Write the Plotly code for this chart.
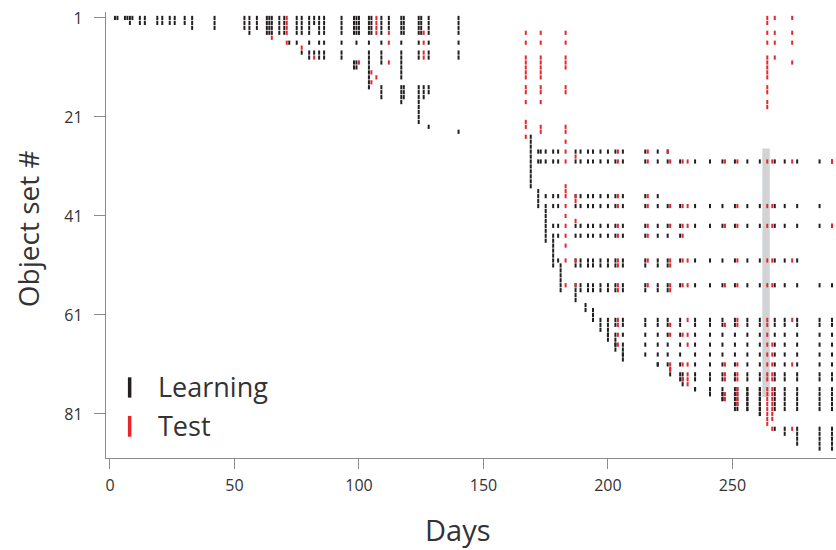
import plotly.graph_objects as go

# ---------------- data ----------------
# events: (day, first object set, last object set)
early_learn = [(2,1,1),(3,1,1),(6,1,1),(7,1,1),(8,1,2),(9,1,1),(12,1,2),(14,1,2),(19,1,2),(21,1,2),
               (24,1,2),(26,1,2),(30,1,2),(33,1,3),(42,1,3),(54,1,3),(56,1,4),(59,1,3),(63,1,4),(64,1,4),
               (65,1,4),(68,1,4),(70,1,4),(72,6,6),(75,1,4),(75,6,6),(77,1,4),(77,8,8),(80,1,4),(80,6,6),
               (80,8,9),(82,1,2),(82,8,8),(84,1,4),(84,6,6),(84,8,9),(86,1,4),(86,6,6),(86,8,9),(93,1,4),
               (93,6,6),(93,8,9),(98,1,4),(99,1,4),(100,1,4),(99,6,6),(98,10,11),(99,10,11),(104,1,4),
               (105,1,4),(104,6,6),(104,8,9),(104,10,15),(109,1,4),(109,6,6),(109,8,10),(109,15,17),
               (112,1,3),(117,1,4),(118,1,4),(117,6,6),(117,8,9),(117,10,13),(117,15,18),(118,15,17),
               (124,1,4),(125,1,4),(124,6,6),(124,8,9),(124,15,22),(126,15,17),(128,1,4),(128,6,6),
               (128,8,9),(128,15,16),(128,23,23),(140,1,4),(140,6,6),(140,8,9),(140,24,24)]
early_test = [(65,5,5),(71,1,4),(71,6,6),(77,7,7),(82,9,9),(100,10,10),(105,12,12),(105,14,14),
              (107,1,4),(107,13,13),(112,4,4),(112,6,6),(112,10,10),(126,4,4),(126,6,6),(126,8,9)]
test_a = [(167,4,4),(167,6,6),(167,9,13),(167,15,16),(167,18,18),(167,22,23),(167,25,25),
          (173,4,4),(173,6,6),(173,9,13),(173,15,16),(173,18,18),(173,23,24),
          (183,4,4),(183,6,6),(183,9,11),(183,15,16),(183,23,24),(183,26,26),(183,35,36),
          (183,41,41),(183,47,47),(187,29,29),(187,38,38),(187,42,42),(225,72,72),(232,75,75)]
test_b = [(264,1,2),(264,4,4),(264,6,6),(264,9,13),(264,15,16),(264,18,19),(267,1,1),(267,4,4),
          (267,6,6),(267,9,9),(274,1,1),(274,4,4),(274,6,6),(274,10,10)]
late_intro = [(169,25,35),(172,36,39),(175,40,46),(178,46,51),(181,51,56),(187,57,58),(191,59,60),
              (194,60,62),(197,62,64),(200,64,66),(203,66,68),(206,68,70),(220,71,71),(225,72,73),
              (230,73,75),(235,76,76),(241,76,77),(246,77,78),(252,76,80),(256,76,80),(261,76,81)]
# review schedule of the later object sets
review_days = [172,173,175,178,180,187,189,192,194,197,200,203,206,215,220,224,229,235,241,246,
               251,256,261,267,271,276,285,290]
# (object set, first day, last day, test days)
review_rows = [
    (28,172,224,[183,204,216,224]),
    (30,172,290,[183,204,216,225,230,232,247,252,264,266,274,290]),
    (37,175,220,[183,187,204,216]),
    (39,175,285,[183,204,216,225,230,232,252,264,266]),
    (43,178,290,[183,204,216,225,230,232,247,252,264,266,290]),
    (45,178,230,[183,204,216,230]),
    (50,180,276,[183,187,204,216,225,230,232,252,264,266,274]),
    (51,187,224,[204,225]),
    (55,183,290,[183,187,204,216,225,230,232,247,252,264,266]),
    (56,187,224,[204,225]),
    (62,200,290,[204,232,252,264,274]),
    (63,200,290,[204,225,247,252,264]),
    (65,200,290,[204,225,230,232,264]),
    (67,203,290,[204,232,264,266]),
    (69,206,290,[264,266]),
    (71,220,290,[225,230,232,247,252,264,266,274]),
    (73,225,290,[232,247,252,264,266]),
    (74,229,290,[230,232,247,252,264,266]),
    (76,235,290,[252,264,266]),
    (77,241,290,[247,252,264,266]),
    (78,246,290,[247,252,264,266]),
    (79,251,290,[252,264,266]),
    (80,251,290,[264,266]),
    (81,261,261,[264,266]),
    (82,264,264,[264,266]),
    (83,264,264,[264]),
    (84,266,290,[266,274]),
    (85,271,290,[]),
    (86,276,290,[]),
    (87,276,290,[]),
    (88,285,290,[]),
]
highlight_days = [262, 265]
highlight_sets = [27.4, 77.6]
x_ticks = [0, 50, 100, 150, 200, 250]
y_ticks = [1, 21, 41, 61, 81]

BLACK = "#231F20"
RED = "#E8262C"
FONT = "Open Sans"


def expand(events):
    xs, ys = [], []
    for d, s0, s1 in events:
        for s in range(s0, s1 + 1):
            xs.append(d)
            ys.append(s)
    return xs, ys


lx, ly = expand(early_learn + late_intro)
tx, ty = expand(early_test + test_a + test_b)
for s, d0, d1, tests in review_rows:
    for d in review_days:
        if d0 <= d <= d1:
            lx.append(d)
            ly.append(s)
    for d in tests:
        tx.append(d)
        ty.append(s)

mk = dict(symbol="line-ns", size=3)
fig = go.Figure()
fig.add_trace(go.Scatter(x=lx, y=ly, mode="markers", name="Learning", hoverinfo="skip",
                         marker=dict(**mk, color=BLACK, line=dict(color=BLACK, width=2))))
fig.add_trace(go.Scatter(x=tx, y=ty, mode="markers", name="Test", hoverinfo="skip",
                         marker=dict(**mk, color=RED, line=dict(color=RED, width=2))))

fig.add_shape(type="rect", x0=highlight_days[0], x1=highlight_days[1],
              y0=highlight_sets[0], y1=highlight_sets[1], layer="below",
              fillcolor="#D2D3D5", line=dict(width=0))

# legend (drawn inside the plot)
fig.add_shape(type="line", x0=7.9, x1=7.9, y0=73.6, y1=77.7, line=dict(color=BLACK, width=3.5))
fig.add_shape(type="line", x0=7.9, x1=7.9, y0=81.4, y1=85.6, line=dict(color=RED, width=3.5))
fig.add_annotation(x=18.5, y=75.4, text="Learning", showarrow=False, xanchor="left", yanchor="middle",
                   font=dict(family=FONT, size=27, color="#333333"))
fig.add_annotation(x=18.5, y=83.3, text="Test", showarrow=False, xanchor="left", yanchor="middle",
                   font=dict(family=FONT, size=27, color="#333333"))

# axis titles
fig.add_annotation(x=-0.107, y=0.515, xref="paper", yref="paper", text="Object set #", textangle=-90,
                   showarrow=False, xanchor="center", yanchor="middle",
                   font=dict(family=FONT, size=28, color="#333333"))
fig.add_annotation(x=0.482, y=-0.16, xref="paper", yref="paper", text="Days", showarrow=False,
                   xanchor="center", yanchor="middle", font=dict(family=FONT, size=29, color="#333333"))

axis_common = dict(showgrid=False, zeroline=False, showline=True, linecolor="#8C8C8C", linewidth=1.3,
                   ticks="outside", tickcolor="#8C8C8C", tickwidth=1.3,
                   tickfont=dict(family=FONT, size=16, color="#333333"))
fig.update_xaxes(range=[-1.6, 291.6], tickvals=x_ticks, ticklen=10, ticklabelstandoff=3, **axis_common)
fig.update_yaxes(range=[89.9, -0.2], tickvals=y_ticks, ticklen=11, ticklabelstandoff=8, **axis_common)

fig.update_layout(width=836, height=550, margin=dict(l=106, r=0, t=12, b=92),
                  plot_bgcolor="white", paper_bgcolor="white", showlegend=False)
fig.write_html("out.html")
